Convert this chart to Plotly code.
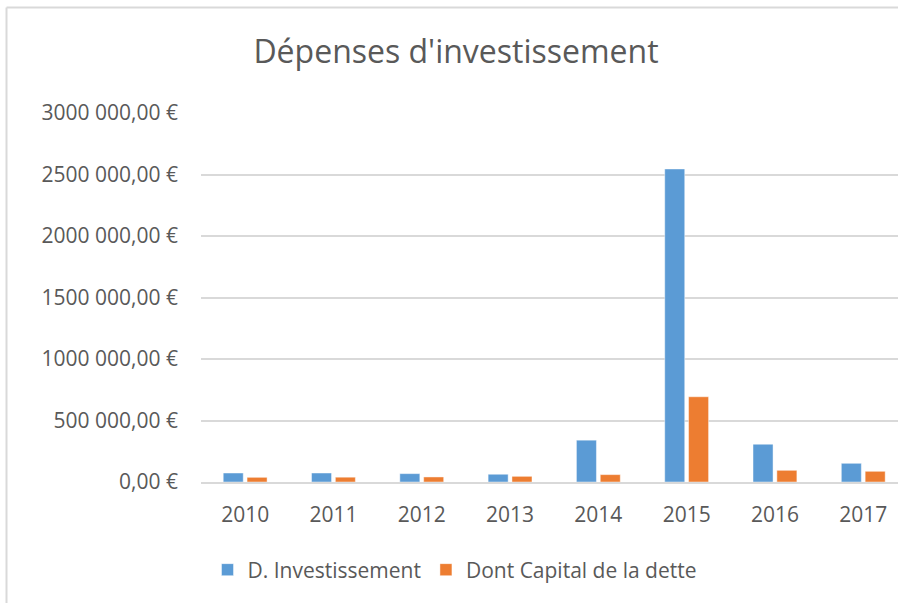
import plotly.graph_objects as go

years = ["2010", "2011", "2012", "2013", "2014", "2015", "2016", "2017"]
d_investissement = [73000, 73000, 68000, 63000, 340000, 2545000, 307000, 152000]
capital_dette = [38000, 39000, 41000, 46000, 60000, 693000, 95000, 87000]
tick_vals = [0, 500000, 1000000, 1500000, 2000000, 2500000, 3000000]
tick_text = ["0,00 €", "500 000,00 €", "1000 000,00 €", "1500 000,00 €",
             "2000 000,00 €", "2500 000,00 €", "3000 000,00 €"]

W, H = 898, 603
L, R_px, T, B_px = 201, 898, 113, 482
pw, ph = R_px - L, B_px - T
cat_px = 88.3

def px_x(x):
    return (x - L) / pw

def px_y(y):
    return (B_px - y) / ph

txt = "#595959"
font = "Open Sans, Liberation Sans, sans-serif"
fs = 21

fig = go.Figure()
fig.add_trace(go.Bar(x=years, y=d_investissement, name="D. Investissement",
                     marker=dict(color="#5B9BD5", line=dict(color="rgba(255,255,255,0.45)", width=1))))
fig.add_trace(go.Bar(x=years, y=capital_dette, name="Dont Capital de la dette",
                     marker=dict(color="#ED7D31", line=dict(color="rgba(255,255,255,0.45)", width=1))))

fig.update_layout(
    width=W, height=H,
    margin=dict(l=L, r=W - R_px, t=T, b=H - B_px, pad=0),
    paper_bgcolor="white", plot_bgcolor="white",
    font=dict(family=font, color=txt, size=fs),
    title=dict(text="Dépenses d'investissement", x=456 / W, xanchor="center",
               y=1 - 52 / H, yanchor="middle",
               font=dict(family=font, size=32, color=txt)),
    barmode="group", bargap=0.46, bargroupgap=0.16,
    showlegend=True,
    legend=dict(orientation="h", x=px_x(455), xanchor="center", y=px_y(570), yanchor="middle",
                font=dict(size=fs, color=txt), itemwidth=30, traceorder="normal"),
    xaxis=dict(type="category", range=[-0.5, -0.5 + pw / cat_px], showgrid=False,
               showline=True, linecolor="#D9D9D9", linewidth=1.5, ticks="",
               ticklabelstandoff=13, tickfont=dict(size=fs, color=txt)),
    yaxis=dict(range=[0, 3000000], tickvals=tick_vals, ticktext=tick_text,
               showgrid=True, gridcolor="#D9D9D9", gridwidth=1.5, zeroline=False,
               showline=False, ticks="", ticklabelstandoff=22,
               tickfont=dict(size=fs, color=txt)),
    shapes=[
        dict(type="line", xref="paper", yref="paper", x0=px_x(6.5), x1=px_x(6.5),
             y0=px_y(7.5), y1=px_y(610), line=dict(color="#D9D9D9", width=2)),
        dict(type="line", xref="paper", yref="paper", x0=px_x(6.5), x1=px_x(905),
             y0=px_y(7.5), y1=px_y(7.5), line=dict(color="#D9D9D9", width=2)),
    ],
)

fig.write_html("out.html", config={"displayModeBar": False},
               post_script="document.body.style.margin='0';document.body.style.overflow='hidden';")
